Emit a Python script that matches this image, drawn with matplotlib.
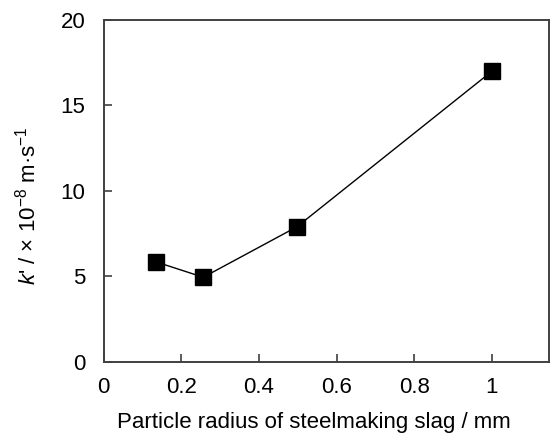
import matplotlib
matplotlib.use("Agg")
import matplotlib.pyplot as plt

plt.rcParams["font.family"] = ["Liberation Sans", "DejaVu Sans"]
plt.rcParams["mathtext.fontset"] = "custom"
plt.rcParams["mathtext.rm"] = "Liberation Sans"
plt.rcParams["mathtext.it"] = "Liberation Sans:italic"

# particle radius (mm) vs. rate constant k' (x 1e-8 m/s)
radius = [0.135, 0.257, 0.498, 1.0]
k_prime = [5.85, 4.95, 7.9, 17.0]

x_ticks = [0, 0.2, 0.4, 0.6, 0.8, 1]
x_tick_labels = ["0", "0.2", "0.4", "0.6", "0.8", "1"]
y_ticks = [0, 5, 10, 15, 20]

fig = plt.figure(figsize=(5.52, 4.44), dpi=100)
ax = fig.add_axes([0.1875, 0.185, 0.807, 0.770])

ax.plot(radius, k_prime, color="black", lw=1.0, marker="s", ms=11.5,
        mfc="black", mec="black")

ax.set_xlim(0, 1.147)
ax.set_ylim(0, 20)
ax.set_xticks(x_ticks)
ax.set_xticklabels(x_tick_labels)
ax.set_yticks(y_ticks)
ax.tick_params(direction="in", length=6, width=1.2, color="#404040",
               labelsize=16, top=False, right=False)
ax.tick_params(axis="x", pad=11)
ax.tick_params(axis="y", pad=13)
for s in ax.spines.values():
    s.set_color("#404040")
    s.set_linewidth(1.4)

ax.set_xlabel("Particle radius of steelmaking slag / mm", fontsize=16)
ax.set_ylabel(r"$k$' / × 10$^{-8}$ m·s$^{-1}$", fontsize=16)
ax.xaxis.set_label_coords(0.4725, -0.147)
ax.yaxis.set_label_coords(-0.142, 0.456)

fig.savefig("out.png", dpi=100)
